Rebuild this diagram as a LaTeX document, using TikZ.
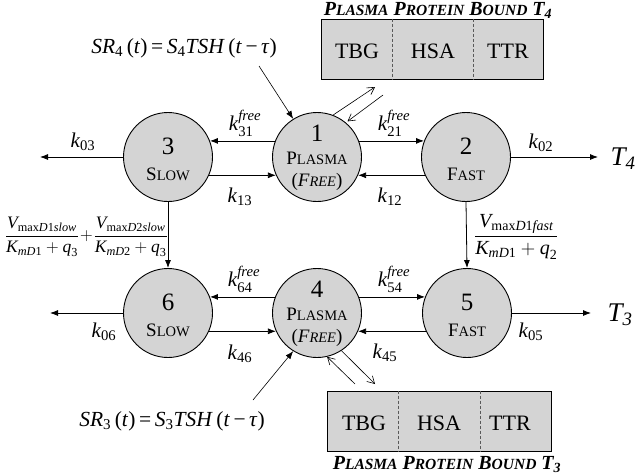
\RequirePackage{fix-cm}
\documentclass[tikz,border=0pt]{standalone}
\usepackage{amsmath}
\usepackage{fontspec}
\setmainfont{Liberation Serif}
\usetikzlibrary{arrows.meta,calc}
\definecolor{compgray}{RGB}{212,212,212}
\newcommand{\mi}[1]{\textit{#1}}
\newcommand{\smc}[1]{{\fontsize{14.5}{15}\selectfont #1}}
\newcommand{\bsmc}[1]{{\fontsize{15.5}{16}\selectfont #1}}
\begin{document}
\begin{tikzpicture}[x=1pt,y=-1pt,
  comp/.style={circle, draw, fill=compgray, line width=0.9pt, minimum size=89pt, inner sep=0pt},
  flow/.style={line width=0.8pt, -{Latex[length=8pt,width=6pt]}},
  bind/.style={line width=0.6pt, -{Straight Barb[length=7pt,width=8pt]}},
  lbl/.style={font=\fontsize{21}{22}\selectfont, inner sep=0pt},
  frac/.style={font=\fontsize{17.5}{20}\selectfont, inner sep=0pt},
  num/.style={font=\fontsize{25}{25}\selectfont, inner sep=0pt},
  cname/.style={font=\fontsize{19}{20}\selectfont, inner sep=0pt},
  pbox/.style={draw, fill=compgray, line width=0.9pt, minimum width=222pt, minimum height=60pt, inner sep=0pt},
  prot/.style={font=\fontsize{22}{22}\selectfont, inner sep=0pt},
  divider/.style={line width=0.6pt, draw=gray!70!black, dash pattern=on 3pt off 2pt},
  title/.style={font=\fontsize{20}{22}\selectfont\bfseries\itshape, inner sep=0pt},
  eqn/.style={font=\fontsize{21.5}{24}\selectfont, inner sep=0pt},
  outl/.style={font=\fontsize{27}{27}\selectfont\itshape, inner sep=0pt}
]
\useasboundingbox (0,0) rectangle (637,475);

% compartments
\node[comp] (n1) at (317,157) {};
\node[comp] (n2) at (466,157) {};
\node[comp] (n3) at (168,157) {};
\node[comp] (n4) at (317,313) {};
\node[comp] (n5) at (467,313) {};
\node[comp] (n6) at (168,313) {};

% compartment texts
\node[num] (n1a) at ($(n1)+(0,-24)$) {1};
\node[cname] (n1b) at ($(n1)+(0,1)$) {P\smc{LASMA}};
\node[cname] (n1c) at ($(n1)+(0,25)$) {(\textit{F\smc{REE}})};
\node[num] (n2a) at ($(n2)+(0,-11)$) {2};
\node[cname] (n2b) at ($(n2)+(0,17)$) {F\smc{AST}};
\node[num] (n3a) at ($(n3)+(0,-11)$) {3};
\node[cname] (n3b) at ($(n3)+(0,17)$) {S\smc{LOW}};
\node[num] (n4a) at ($(n4)+(0,-24)$) {4};
\node[cname] (n4b) at ($(n4)+(0,1)$) {P\smc{LASMA}};
\node[cname] (n4c) at ($(n4)+(0,25)$) {(\textit{F\smc{REE}})};
\node[num] (n5a) at ($(n5)+(0,-11)$) {5};
\node[cname] (n5b) at ($(n5)+(0,17)$) {F\smc{AST}};
\node[num] (n6a) at ($(n6)+(0,-11)$) {6};
\node[cname] (n6b) at ($(n6)+(0,17)$) {S\smc{LOW}};

% exchange arrows top
\draw[flow] (n1.159) -- (n3.21);
\draw[flow] (n3.336) -- (n1.204);
\draw[flow] (n1.21) -- (n2.159);
\draw[flow] (n2.204) -- (n1.336);
% exchange arrows bottom
\draw[flow] (n4.159) -- (n6.21);
\draw[flow] (n6.336) -- (n4.204);
\draw[flow] (n4.21) -- (n5.159);
\draw[flow] (n5.204) -- (n4.336);

% elimination
\coordinate (e03) at (40,157);
\coordinate (e02) at (598,157);
\coordinate (e06) at (50,313);
\coordinate (e05) at (591,313);
\draw[flow] (n3.west) -- (e03);
\draw[flow] (n2.east) -- (e02);
\draw[flow] (n6.west) -- (e06);
\draw[flow] (n5.east) -- (e05);

% conversion T4 -> T3
\draw[flow] (n3.south) -- (n6.north);
\draw[flow] (n2.south) -- (n5.north);

% rate labels
\node[lbl] (k31) at (245,123) {$\mi{k}^{\mi{free}}_{\text{31}}$};
\node[lbl] (k13) at (240,197) {$\mi{k}_{\text{13}}$};
\node[lbl] (k21) at (394,123) {$\mi{k}^{\mi{free}}_{\text{21}}$};
\node[lbl] (k12) at (390,197) {$\mi{k}_{\text{12}}$};
\node[lbl] (k03) at (83,142) {$\mi{k}_{\text{03}}$};
\node[lbl] (k02) at (541,143) {$\mi{k}_{\text{02}}$};
\node[lbl] (k64) at (244,279) {$\mi{k}^{\mi{free}}_{\text{64}}$};
\node[lbl] (k46) at (240,354) {$\mi{k}_{\text{46}}$};
\node[lbl] (k54) at (394,279) {$\mi{k}^{\mi{free}}_{\text{54}}$};
\node[lbl] (k45) at (385,353) {$\mi{k}_{\text{45}}$};
\node[lbl] (k06) at (104,332) {$\mi{k}_{\text{06}}$};
\node[lbl] (k05) at (531,332) {$\mi{k}_{\text{05}}$};

% outputs
\node[outl] (T4) at (623,159) {T\textsubscript{4}};
\node[outl] (T3) at (620,315) {T\textsubscript{3}};

% deiodination fractions
\node[frac, anchor=east] (fr3) at (168,237)
  {$\dfrac{\mi{V}_{\text{max}\mi{D}\text{1}\mi{slow}}}{\mi{K}_{\mi{mD}\text{1}}+\mi{q}_{\text{3}}}\!+\!\dfrac{\mi{V}_{\text{max}\mi{D}\text{2}\mi{slow}}}{\mi{K}_{\mi{mD}\text{2}}+\mi{q}_{\text{3}}}$};
\node[frac, font=\fontsize{20}{22}\selectfont, anchor=west] (fr2) at (474,237)
  {$\dfrac{\mi{V}_{\text{max}\mi{D}\text{1}\mi{fast}}}{\mi{K}_{\mi{mD}\text{1}}+\mi{q}_{\text{2}}}$};

% secretion
\node[eqn] (sr4) at (184,48) {\textit{SR}\textsubscript{4}\,(\textit{t})\,=\,\textit{S}\textsubscript{4}\textit{TSH}\,(\textit{t}\,−\,\textit{τ})};
\node[eqn] (sr3) at (172,421) {\textit{SR}\textsubscript{3}\,(\textit{t})\,=\,\textit{S}\textsubscript{3}\textit{TSH}\,(\textit{t}\,−\,\textit{τ})};
\coordinate (s4) at (259,66);
\coordinate (s3) at (253,400);
\draw[line width=0.6pt, -{Latex[length=8pt,width=6pt]}] (s4) -- (n1.122);
\draw[line width=0.6pt, -{Latex[length=8pt,width=6pt]}] (s3) -- (n4.238);

% protein-bound boxes
\node[pbox] (pb4) at (432,49) {};
\draw[divider] ($(pb4.north west)+(72,0)$) -- ($(pb4.south west)+(72,0)$);
\draw[divider] ($(pb4.north west)+(153,0)$) -- ($(pb4.south west)+(153,0)$);
\node[prot] (tbg4) at (357,51) {TBG};
\node[prot] (hsa4) at (433,51) {HSA};
\node[prot] (ttr4) at (508,51) {TTR};
\node[title] (pt4) at (438,10) {P\bsmc{LASMA} P\bsmc{ROTEIN} B\bsmc{OUND} T\textsubscript{4}};

\node[pbox, minimum width=224pt] (pb3) at (439,421) {};
\draw[divider] ($(pb3.north west)+(72,0)$) -- ($(pb3.south west)+(72,0)$);
\draw[divider] ($(pb3.north west)+(154,0)$) -- ($(pb3.south west)+(154,0)$);
\node[prot] (tbg3) at (364,423) {TBG};
\node[prot] (hsa3) at (439,423) {HSA};
\node[prot] (ttr3) at (510,423) {TTR};
\node[title] (pt3) at (447,465) {P\bsmc{LASMA} P\bsmc{ROTEIN} B\bsmc{OUND} T\textsubscript{3}};

% binding exchange
\coordinate (b4e) at (375,87);
\coordinate (b4s) at (383,95);
\draw[bind] (n1.69) -- (b4e);
\draw[bind, shorten >=2pt] (b4s) -- (n1.50);
\coordinate (b3s) at (355,384);
\coordinate (b3e) at (375,384);
\draw[bind] (b3s) -- (n4.283);
\draw[bind] (n4.303) -- (b3e);
\end{tikzpicture}
\end{document}
